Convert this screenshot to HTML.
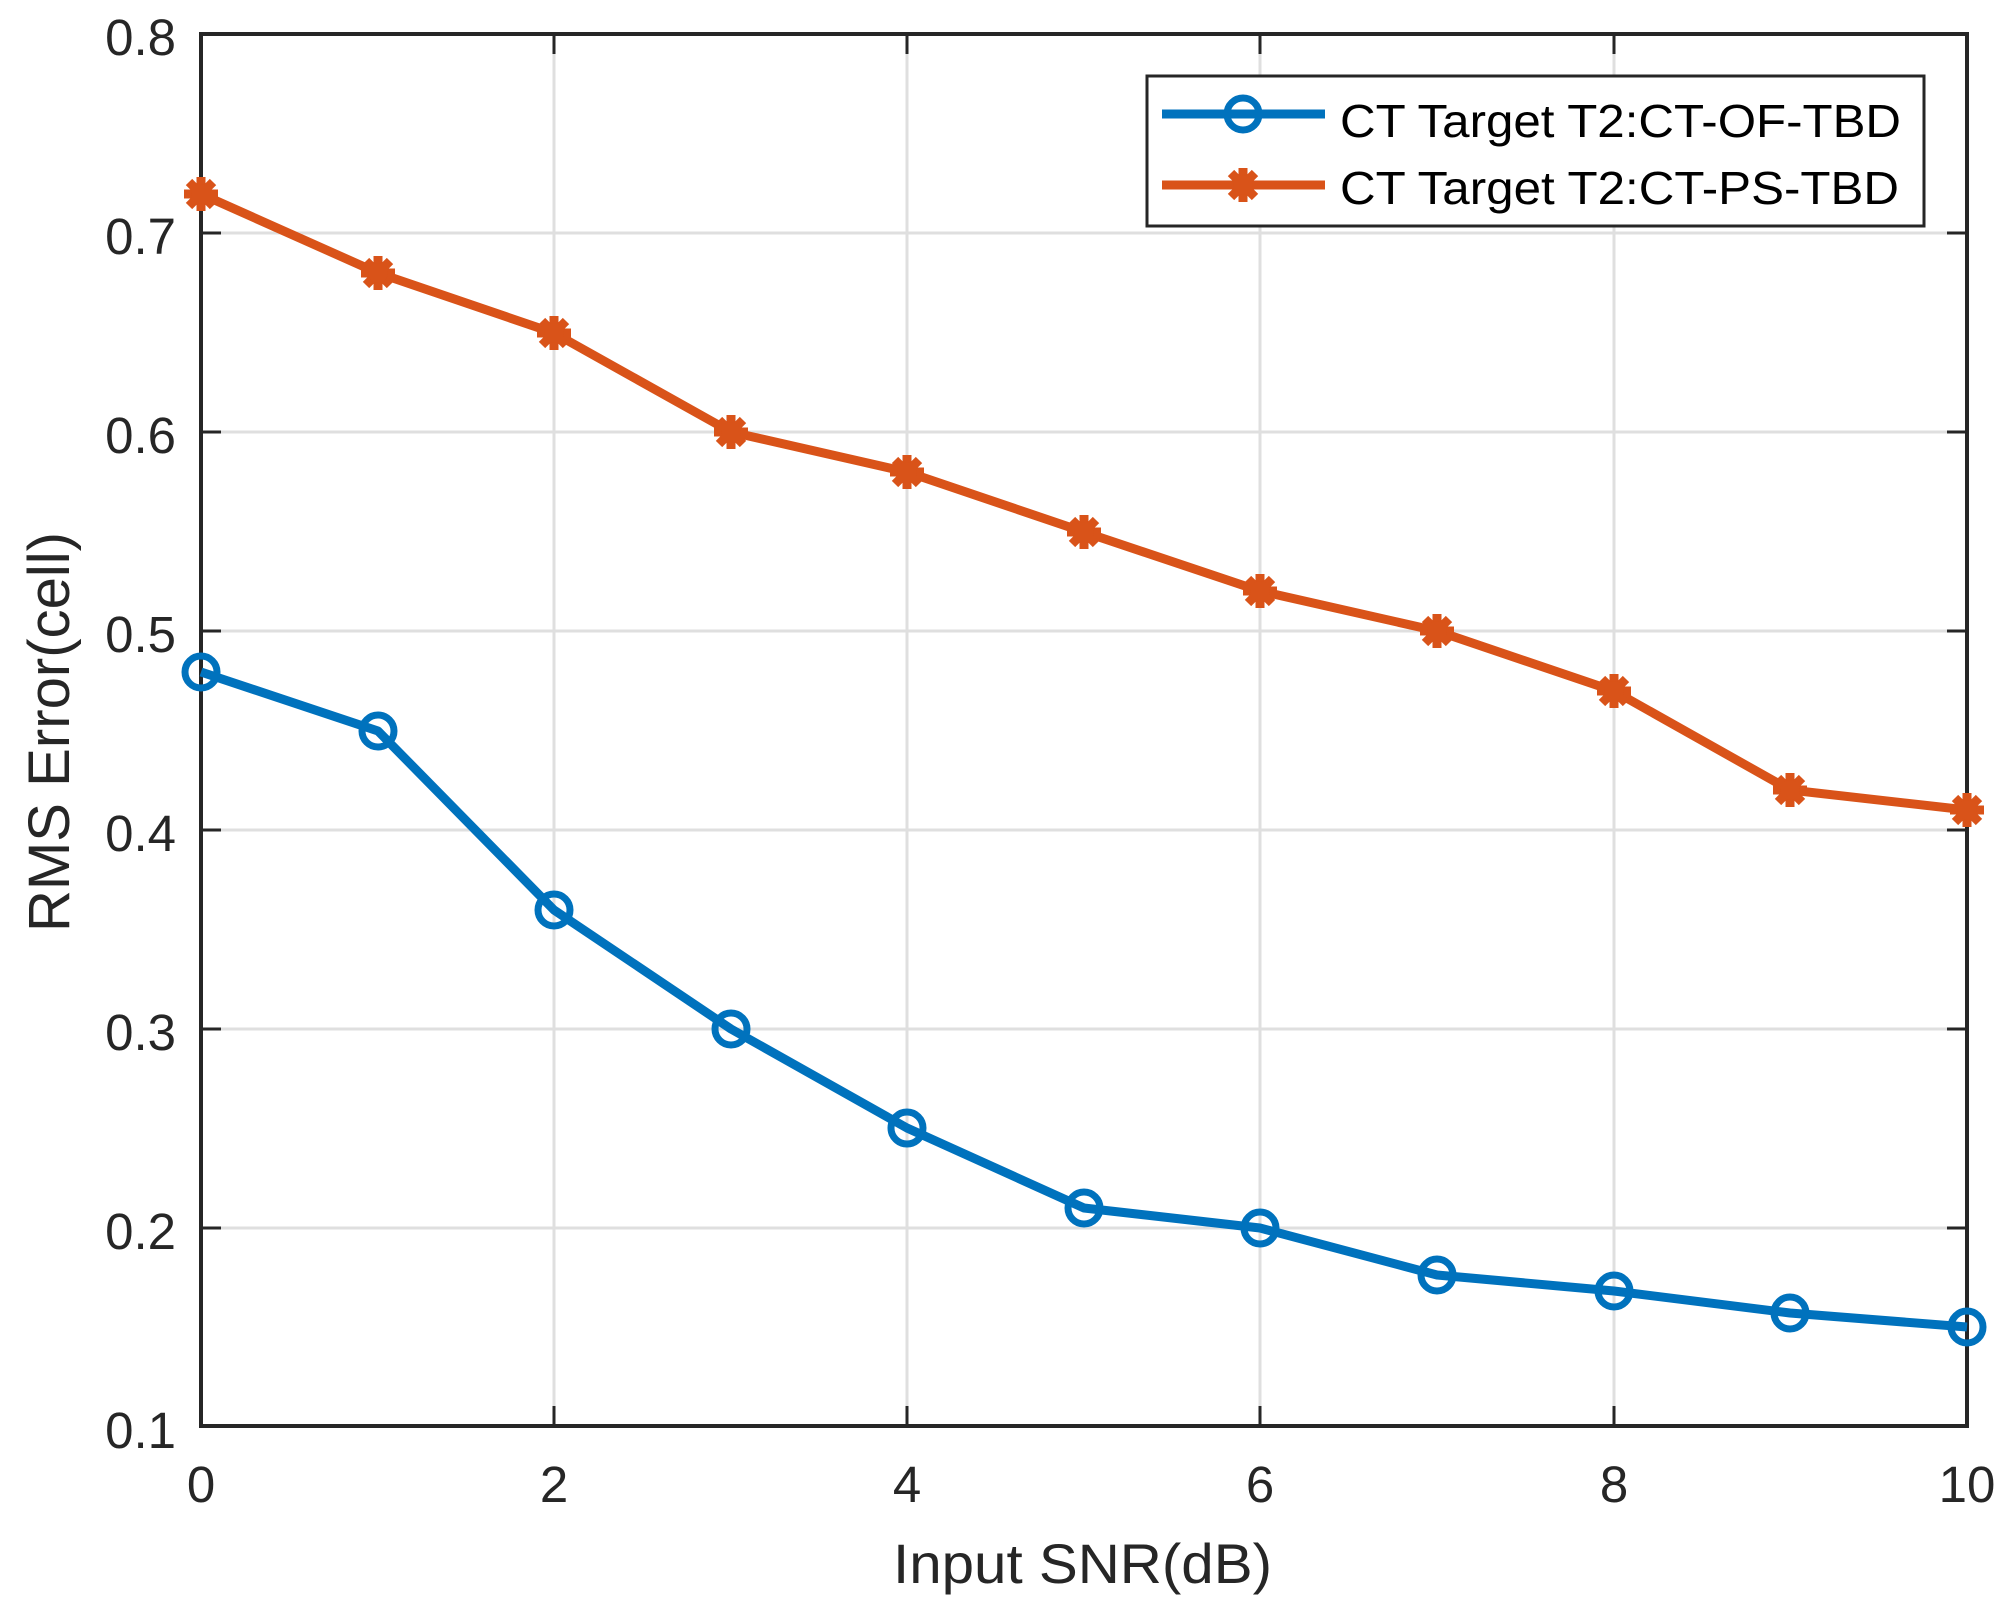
<!DOCTYPE html>
<html><head><meta charset="utf-8"><style>html,body{margin:0;padding:0;background:#fff}svg{display:block}</style></head><body>
<svg width="2007" height="1618" viewBox="0 0 2007 1618" xmlns="http://www.w3.org/2000/svg" font-family="Liberation Sans, sans-serif" fill="#262626">
<defs>
<g id="ast"><path d="M0,-17V17M-17,0H17M-12,-12L12,12M-12,12L12,-12" stroke="#D95319" stroke-width="9"/><circle r="10" fill="#D95319"/></g>
</defs>
<g stroke="#dfdfdf" stroke-width="3">
<line x1="554" y1="34" x2="554" y2="1426"/><line x1="907" y1="34" x2="907" y2="1426"/><line x1="1260" y1="34" x2="1260" y2="1426"/><line x1="1614" y1="34" x2="1614" y2="1426"/>
<line x1="201" y1="1228" x2="1967" y2="1228"/><line x1="201" y1="1029" x2="1967" y2="1029"/><line x1="201" y1="830" x2="1967" y2="830"/><line x1="201" y1="631" x2="1967" y2="631"/><line x1="201" y1="432" x2="1967" y2="432"/><line x1="201" y1="233" x2="1967" y2="233"/>
</g>
<g stroke="#262626" stroke-width="3">
<path d="M554,1426v-20M907,1426v-20M1260,1426v-20M1614,1426v-20M554,34v20M907,34v20M1260,34v20M1614,34v20"/>
<path d="M201,1228h20M201,1029h20M201,830h20M201,631h20M201,432h20M201,233h20M1967,1228h-20M1967,1029h-20M1967,830h-20M1967,631h-20M1967,432h-20M1967,233h-20"/>
</g>
<rect x="201" y="34" width="1766" height="1392" fill="none" stroke="#262626" stroke-width="4"/>
<g font-size="51" text-anchor="end">
<text x="176" y="1448">0.1</text><text x="176" y="1249">0.2</text><text x="176" y="1050">0.3</text><text x="176" y="851">0.4</text><text x="176" y="652">0.5</text><text x="176" y="453">0.6</text><text x="176" y="254">0.7</text><text x="176" y="55">0.8</text>
</g>
<g font-size="51" text-anchor="middle">
<text x="201" y="1502">0</text><text x="554" y="1502">2</text><text x="907" y="1502">4</text><text x="1260" y="1502">6</text><text x="1614" y="1502">8</text><text x="1967" y="1502">10</text>
</g>
<text x="893" y="1583" font-size="56" textLength="379" lengthAdjust="spacingAndGlyphs">Input SNR(dB)</text>
<text transform="translate(69,932) rotate(-90)" font-size="58" textLength="400" lengthAdjust="spacingAndGlyphs">RMS Error(cell)</text>
<polyline fill="none" stroke="#0072BD" stroke-width="9" stroke-linejoin="round" points="201,672 378,731 554,910 731,1029 907,1128 1084,1208 1260,1228 1437,1275 1614,1291 1790,1313 1967,1327"/>
<g fill="none" stroke="#0072BD" stroke-width="7">
<circle cx="201" cy="672" r="16"/><circle cx="378" cy="731" r="16"/><circle cx="554" cy="910" r="16"/><circle cx="731" cy="1029" r="16"/><circle cx="907" cy="1128" r="16"/><circle cx="1084" cy="1208" r="16"/><circle cx="1260" cy="1228" r="16"/><circle cx="1437" cy="1275" r="16"/><circle cx="1614" cy="1291" r="16"/><circle cx="1790" cy="1313" r="16"/><circle cx="1967" cy="1327" r="16"/>
</g>
<polyline fill="none" stroke="#D95319" stroke-width="9" stroke-linejoin="round" points="201,194 378,273 554,333 731,432 907,472 1084,532 1260,591 1437,631 1614,691 1790,790 1967,810"/>
<use href="#ast" x="201" y="194"/><use href="#ast" x="378" y="273"/><use href="#ast" x="554" y="333"/><use href="#ast" x="731" y="432"/><use href="#ast" x="907" y="472"/><use href="#ast" x="1084" y="532"/><use href="#ast" x="1260" y="591"/><use href="#ast" x="1437" y="631"/><use href="#ast" x="1614" y="691"/><use href="#ast" x="1790" y="790"/><use href="#ast" x="1967" y="810"/>
<rect x="1147" y="76" width="777" height="150" fill="#fff" stroke="#262626" stroke-width="3"/>
<line x1="1162" y1="114" x2="1325" y2="114" stroke="#0072BD" stroke-width="9"/>
<circle cx="1243" cy="114" r="16" fill="none" stroke="#0072BD" stroke-width="7"/>
<line x1="1162" y1="185" x2="1325" y2="185" stroke="#D95319" stroke-width="9"/>
<use href="#ast" x="1243" y="185"/>
<g font-size="46" fill="#000">
<text x="1340" y="137" textLength="561" lengthAdjust="spacingAndGlyphs">CT Target T2:CT-OF-TBD</text>
<text x="1340" y="204" textLength="559" lengthAdjust="spacingAndGlyphs">CT Target T2:CT-PS-TBD</text>
</g>
</svg>
</body></html>
